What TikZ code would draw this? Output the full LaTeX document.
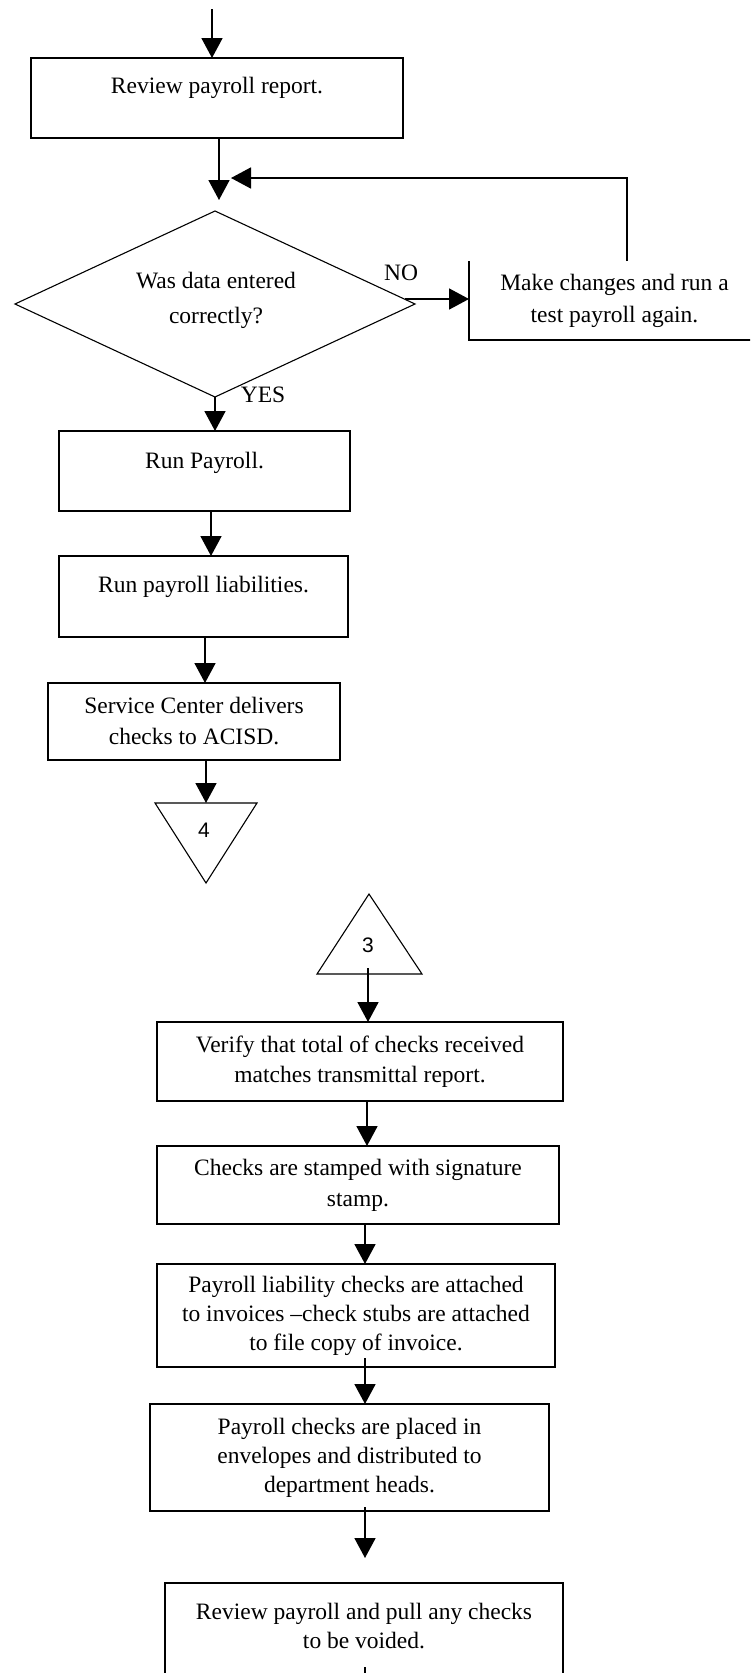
\documentclass[tikz,border=0pt]{standalone}
\usepackage{fontspec}
\setmainfont{Liberation Serif}
\newfontfamily\connfont{Liberation Sans}
\usetikzlibrary{arrows.meta,shapes.geometric,calc}

\newcommand\flowfont{\fontsize{23.5}{30}\selectfont}

\tikzset{
  boxline/.style={line width=1.7pt},
  thinline/.style={line width=1.1pt},
  box/.style={draw, boxline, inner sep=0pt, outer sep=0pt, align=center, font=\flowfont},
  txt/.style={inner sep=0pt, outer sep=0pt, align=center, font=\flowfont},
  arr/.style={line width=1.7pt, -{Triangle[length=20pt,width=21pt]}},
}

\begin{document}
\begin{tikzpicture}[x=1pt,y=-1pt]
  \useasboundingbox (0,0) rectangle (750,1673);
  \fill[white] (0,0) rectangle (750,1673);
  \clip (0,0) rectangle (750,1673);

  % ---- first part of the procedure ----
  \coordinate (in) at (212,9);
  \node[box, minimum width=372, text height=35pt, text depth=45pt] (b1) at (217,98)
        {Review payroll report.};

  \node[draw, diamond, thinline, inner sep=0pt, outer sep=0pt,
        minimum width=400, minimum height=186] (dec) at (215,304) {};
  \node[txt, font=\fontsize{23.5}{35}\selectfont] (dect) at (216,300) {Was data entered\\correctly?};

  \node[txt, minimum width=291, minimum height=79, font=\fontsize{23.5}{32}\selectfont] (mk) at (614.5,300.5)
        {Make changes and run a\\test payroll again.};
  \draw[boxline] (mk.north west) -- (mk.south west) -- (mk.south east);

  \node[txt] (no)  at (401,273) {NO};
  \node[txt] (yes) at (263,395) {YES};

  \node[box, minimum width=291, text height=37pt, text depth=43pt] (rp) at (204.5,471)
        {Run Payroll.};
  \node[box, minimum width=289, text height=36pt, text depth=45pt] (rl) at (203.5,596.5)
        {Run payroll liabilities.};
  \node[box, minimum width=292, minimum height=77, font=\fontsize{23.5}{31}\selectfont] (sc) at (194,721.5)
        {Service Center delivers\\checks to ACISD.};

  % off-page connector 4
  \coordinate (t4) at (206,803);
  \draw[thinline] (155,803) -- (257,803) -- (206,883) -- cycle;
  \node[inner sep=0pt, font=\connfont\fontsize{21}{24}\selectfont] (n4) at (204,830) {4};

  % ---- second part of the procedure ----
  \draw[thinline] (369,894) -- (422,974) -- (317,974) -- cycle;
  \node[inner sep=0pt, font=\connfont\fontsize{21}{24}\selectfont] (n3) at (368,945) {3};
  \coordinate (t3) at (368,968);

  \node[box, minimum width=406, minimum height=79] (vf) at (360,1061.5)
        {Verify that total of checks received\\matches transmittal report.};
  \node[box, minimum width=402, minimum height=78, font=\fontsize{23.5}{31}\selectfont] (st) at (358,1185)
        {Checks are stamped with signature\\stamp.};
  \node[box, minimum width=398, minimum height=103, font=\fontsize{23.5}{29}\selectfont] (pl) at (356,1315.5)
        {Payroll liability checks are attached\\to invoices --check stubs are attached\\to file copy of invoice.};
  \node[box, minimum width=399, minimum height=107, font=\fontsize{23.5}{29}\selectfont] (pc) at (349.5,1457.5)
        {Payroll checks are placed in\\envelopes and distributed to\\department heads.};
  \node[txt, font=\fontsize{23.5}{29}\selectfont] (rv) at (364,1626)
        {Review payroll and pull any checks\\to be voided.};
  \draw[boxline] (165,1700) |- (563,1583) -- (563,1700);

  % ---- connectors ----
  \coordinate (j) at (219,200);
  \coordinate (fb) at (231,178);
  \coordinate (no0) at (405,299);
  \coordinate (e1) at (365,1558);
  \coordinate (e2) at (365,1667);
  \coordinate (e3) at (365,1700);

  \draw[arr] (in) -- (in |- b1.north);
  \draw[arr] (b1.south -| j) -- (j);
  \draw[arr] ($(mk.north west)+(158,0)$) |- (fb);
  \draw[arr] (no0) -- (no0 -| mk.west);
  \draw[arr] (dec.south) -- (dec.south |- rp.north);
  \draw[arr] ([xshift=6.5pt]rp.south) -- ([xshift=6.5pt]rp.south |- rl.north);
  \draw[arr] ([xshift=1.5pt]rl.south) -- ([xshift=1.5pt]rl.south |- sc.north);
  \draw[arr] (sc.south -| t4) -- (t4);
  \draw[arr] (t3) -- (t3 |- vf.north);
  \draw[arr] ([xshift=7pt]vf.south) -- ([xshift=7pt]vf.south |- st.north);
  \draw[arr] ([xshift=7pt]st.south) -- ([xshift=7pt]st.south |- pl.north);
  \draw[arr] ([xshift=9pt,yshift=9pt]pl.south) -- ([xshift=9pt]pl.south |- pc.north);
  \draw[arr] ([xshift=15.5pt,yshift=4pt]pc.south) -- (e1);
  \draw[boxline] (e2) -- (e3);
\end{tikzpicture}
\end{document}
